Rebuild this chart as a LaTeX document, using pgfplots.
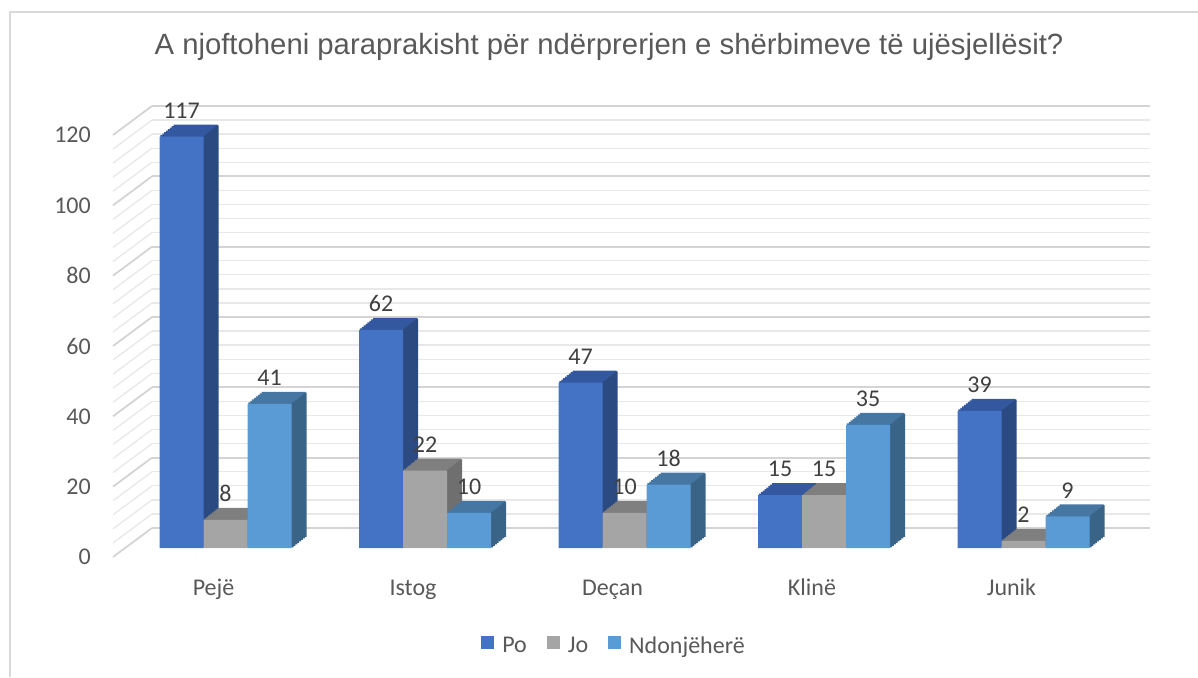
\documentclass[border=0pt]{standalone}
\usepackage{pgfplots}
\pgfplotsset{compat=1.18}
\usepackage{pgfplotstable}
\usepackage{fontspec}
\setmainfont{Carlito}
\newfontfamily\titlefont{Liberation Sans}
\definecolor{poF}{HTML}{4472C4}
\definecolor{poS}{HTML}{2C4A82}
\definecolor{poT}{HTML}{3358A0}
\definecolor{joF}{HTML}{A5A5A5}
\definecolor{joS}{HTML}{6F6F6F}
\definecolor{joT}{HTML}{7F7F7F}
\definecolor{ndF}{HTML}{5B9BD5}
\definecolor{ndS}{HTML}{3A6487}
\definecolor{ndT}{HTML}{4677A3}
\definecolor{txt}{HTML}{595959}
\definecolor{lbl}{HTML}{404040}
\definecolor{gmaj}{HTML}{D4D4D4}
\definecolor{gmin}{HTML}{E8E8E8}
\definecolor{frame}{HTML}{D9D9D9}

\pgfplotsset{sqlegend/.style={legend image code/.code={\draw[##1, draw=none] (0pt,-3pt) rectangle (13pt,10pt);}}}

\pgfplotstableread{
x po jo nd
0 117 8 41
1 62 22 10
2 47 10 18
3 15 15 35
4 39 2 9
}\data

% #1 column, #2 bar shift, #3 front, #4 side, #5 top
\newcommand{\cube}[5]{%
 \pgfplotsinvokeforeach{8,7,6,5,4,3,2,1}{%
  \addplot[ybar, bar width=44pt, bar shift={#2+(##1-0.5)*1.875pt}, yshift={##1*1.5pt}, fill=#5, draw=none, forget plot] table[x=x,y=#1]{\data};
 }%
 \pgfplotsinvokeforeach{1,2,3,4,5,6,7,8}{%
  \addplot[ybar, bar width=2.2pt, bar shift={#2+22pt+(##1-0.5)*1.875pt}, yshift={(##1-0.5)*1.5pt}, fill=#4, draw=none, forget plot] table[x=x,y=#1]{\data};
 }%
 \addplot[ybar, bar width=44pt, bar shift=#2, fill=#3, draw=none, sqlegend,
   nodes near coords,
   nodes near coords style={anchor=center, xshift=#2, yshift=26pt, font=\fontsize{24}{28}\selectfont, text=lbl},
   ] table[x=x,y=#1]{\data};
}

\begin{document}
\begin{tikzpicture}
\useasboundingbox (0pt,0pt) rectangle (1198pt,677pt);
\draw[frame, line width=1.5pt] (10pt,0pt) -- (10pt,665pt) -- (1198pt,665pt);
\node[font=\titlefont\fontsize{29.3}{34}\selectfont, text=txt, anchor=base] at (609pt,622pt)
  {A njoftoheni paraprakisht për ndërprerjen e shërbimeve të ujësjellësit?};

% back wall
\begin{axis}[at={(152pt,149pt)}, anchor=south west, scale only axis,
  width=998pt, height=422pt, xmin=0, xmax=1, ymin=0, ymax=120,
  axis line style={draw=none}, tick style={draw=none},
  xtick=\empty, ytick={0,20,...,120}, yticklabels={}, minor tick num=4,
  ymajorgrids, yminorgrids,
  major grid style={gmaj, line width=1.8pt},
  minor grid style={gmin, line width=1.3pt}, clip=false]
 \pgfplotsinvokeforeach{4,8,12,16,24,28,32,36,44,48,52,56,64,68,72,76,84,88,92,96,104,108,112,116}{
   \draw[gmin, line width=1.3pt] (axis cs:0,#1) -- ++(-39pt,-29pt);
 }
 \pgfplotsinvokeforeach{0,20,40,60,80,100,120}{
   \draw[gmaj, line width=1.8pt] (axis cs:0,#1) -- ++(-39pt,-29pt);
 }
\end{axis}

% bars
\begin{axis}[at={(115.8pt,129pt)}, anchor=south west, scale only axis,
  width=1017.45pt, height=422pt, xmin=-0.55, xmax=4.55, ymin=0, ymax=120,
  clip=false, axis line style={draw=none}, major tick length=0pt,
  ytick={0,20,...,120}, xtick={0,1,2,3,4},
  xticklabels={Pejë,Istog,Deçan,Klinë,Junik},
  ticklabel style={font=\fontsize{24}{28}\selectfont, text=txt},
  yticklabel style={anchor=east, inner sep=0pt, xshift=-24.8pt, yshift=-9pt},
  xticklabel style={anchor=base, inner sep=0pt, yshift=-47pt, xshift=-12pt},
  /pgf/number format/assume math mode=true,
  legend style={at={(0.4897,-0.2322)}, anchor=center, draw=none, fill=none,
    font=\fontsize{24}{28}\selectfont, text=txt, legend columns=-1,
    /tikz/every odd column/.append style={column sep=6pt},
    /tikz/every even column/.append style={column sep=18pt}},
  ]
 \cube{po}{-44pt}{poF}{poS}{poT}
 \cube{jo}{0pt}{joF}{joS}{joT}
 \cube{nd}{44pt}{ndF}{ndS}{ndT}
 \legend{Po,Jo,Ndonjëherë}
\end{axis}
\end{tikzpicture}
\end{document}
